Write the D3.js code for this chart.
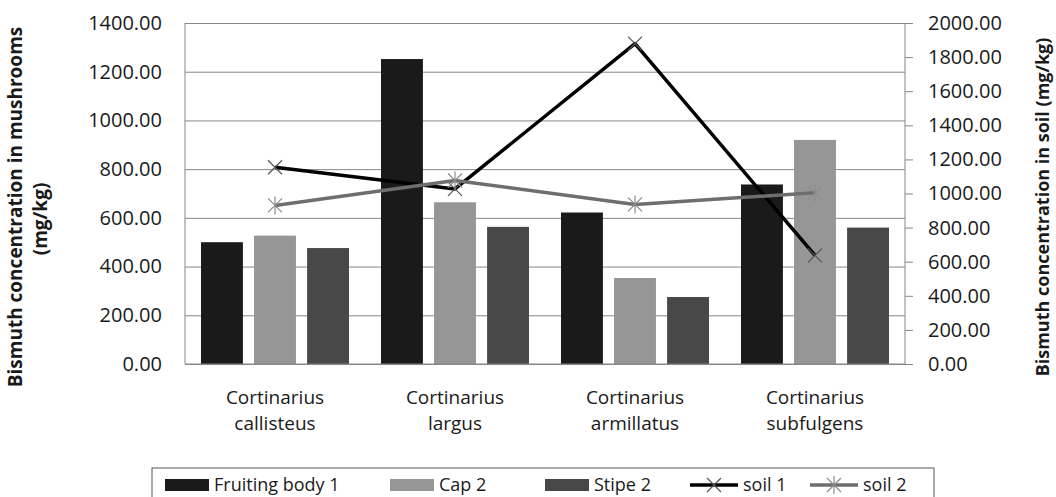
<!DOCTYPE html>
<html>
<head>
<meta charset="utf-8">
<script src="https://cdn.jsdelivr.net/npm/d3@7"></script>
<style>
  body { margin: 0; background: #fff; }
  svg { font-family: "Open Sans", sans-serif; }
</style>
</head>
<body>
<div id="chart-area"></div>
<script>
const categories = ["Cortinarius callisteus", "Cortinarius largus", "Cortinarius armillatus", "Cortinarius subfulgens"];
const barSeries = ["Fruiting body 1", "Cap 2", "Stipe 2"];
const fruitingBody1 = [500, 1252, 622, 737];
const cap2 = [527, 664, 353, 920];
const stipe2 = [476, 563, 275, 560];
const soil1 = [1154, 1027, 1879, 637];
const soil2 = [930, 1076, 936, 1004];
const leftTicks = [0, 200, 400, 600, 800, 1000, 1200, 1400];
const rightTicks = [0, 200, 400, 600, 800, 1000, 1200, 1400, 1600, 1800, 2000];

const barValues = [fruitingBody1, cap2, stipe2];
const barColors = ["#1a1a1a", "#969696", "#484848"];

var width = 1056, height = 497;
var plot = { left: 185, right: 905, top: 23, bottom: 364 };

var svg = d3.select("#chart-area")
    .append("svg")
    .attr("width", width)
    .attr("height", height);

const x0 = d3.scaleBand()
    .domain(categories)
    .range([plot.left, plot.right]);

const x1 = d3.scaleBand()
    .domain(barSeries)
    .range([16, x0.bandwidth() - 16])
    .paddingInner(0.21);

const yL = d3.scaleLinear().domain([0, 1400]).range([plot.bottom, plot.top]);
const yR = d3.scaleLinear().domain([0, 2000]).range([plot.bottom, plot.top]);

// gridlines
svg.append("g")
    .attr("transform", `translate(${plot.left},0)`)
    .call(d3.axisLeft(yL).tickValues(leftTicks).tickSize(-(plot.right - plot.left)).tickFormat(""))
    .call(g => g.select(".domain").remove())
    .call(g => g.selectAll("line").attr("stroke", "#868686"));

// frame
svg.append("line")
    .attr("x1", plot.left).attr("x2", plot.left)
    .attr("y1", plot.top).attr("y2", plot.bottom)
    .attr("stroke", "#868686");

// left axis labels
svg.append("g")
    .attr("transform", `translate(${plot.left},0)`)
    .call(d3.axisLeft(yL).tickValues(leftTicks).tickSize(0).tickPadding(23).tickFormat(d3.format(".2f")))
    .call(g => g.select(".domain").remove())
    .selectAll("text")
    .attr("font-family", "Open Sans")
    .attr("font-size", "20px")
    .attr("fill", "#1a1a1a");

// bars
categories.forEach((c, i) => {
    barSeries.forEach((s, j) => {
        svg.append("rect")
            .attr("x", x0(c) + x1(s))
            .attr("y", yL(barValues[j][i]))
            .attr("width", x1.bandwidth())
            .attr("height", plot.bottom - yL(barValues[j][i]))
            .attr("fill", barColors[j]);
    });
});

// bottom axis line
svg.append("line")
    .attr("x1", plot.left).attr("x2", plot.right)
    .attr("y1", plot.bottom).attr("y2", plot.bottom)
    .attr("stroke", "#868686");

// right axis
svg.append("g")
    .attr("transform", `translate(${plot.right},0)`)
    .call(d3.axisRight(yR).tickValues(rightTicks).tickSize(8).tickPadding(15).tickFormat(d3.format(".2f")))
    .call(g => g.select(".domain").attr("stroke", "#868686").attr("d", `M0,${plot.top}V${plot.bottom}`))
    .call(g => g.selectAll("line").attr("stroke", "#868686"))
    .selectAll("text")
    .attr("font-family", "Open Sans")
    .attr("font-size", "20px")
    .attr("fill", "#1a1a1a");

// category labels, two lines each
categories.forEach(c => {
    c.split(" ").forEach((w, k) => {
        svg.append("text")
            .attr("x", x0(c) + x0.bandwidth() / 2)
            .attr("y", 404 + k * 26)
            .attr("text-anchor", "middle")
            .attr("font-size", "19px")
            .attr("fill", "#1a1a1a")
            .text(w);
    });
});

// lines
const cx = c => x0(c) + x0.bandwidth() / 2;
const line = d3.line().x(d => cx(d.c)).y(d => yR(d.v));

function xMark(g, x, y, color) {
    g.append("path")
        .attr("d", `M${x - 7},${y - 7}L${x + 7},${y + 7}M${x - 7},${y + 7}L${x + 7},${y - 7}`)
        .attr("stroke", color).attr("stroke-width", 1.2).attr("fill", "none");
}
function starMark(g, x, y, color) {
    xMark(g, x, y, color);
    g.append("path")
        .attr("d", `M${x},${y - 9}L${x},${y + 9}`)
        .attr("stroke", color).attr("stroke-width", 1.2);
}

const s1 = categories.map((c, i) => ({ c: c, v: soil1[i] }));
const s2 = categories.map((c, i) => ({ c: c, v: soil2[i] }));

svg.append("path").datum(s1)
    .attr("d", line).attr("fill", "none")
    .attr("stroke", "#000").attr("stroke-width", 3.5).attr("stroke-linejoin", "round");
s1.forEach(d => xMark(svg, cx(d.c), yR(d.v), "#555"));

svg.append("path").datum(s2)
    .attr("d", line).attr("fill", "none")
    .attr("stroke", "#6e6e6e").attr("stroke-width", 3.5).attr("stroke-linejoin", "round");
s2.forEach(d => starMark(svg, cx(d.c), yR(d.v), "#8c8c8c"));

// axis titles
svg.append("text")
    .attr("transform", "translate(22,207) rotate(-90)")
    .attr("text-anchor", "middle")
    .attr("font-size", "19px")
    .attr("font-weight", "bold")
    .attr("fill", "#1a1a1a")
    .text("Bismuth concentration in mushrooms");
svg.append("text")
    .attr("transform", "translate(47,219) rotate(-90)")
    .attr("text-anchor", "middle")
    .attr("font-size", "19px")
    .attr("font-weight", "bold")
    .attr("fill", "#1a1a1a")
    .text("(mg/kg)");
svg.append("text")
    .attr("transform", "translate(1049,207) rotate(-90)")
    .attr("text-anchor", "middle")
    .attr("font-size", "18px")
    .attr("font-weight", "bold")
    .attr("fill", "#1a1a1a")
    .text("Bismuth concentration in soil (mg/kg)");

// legend
const legend = svg.append("g");
legend.append("rect")
    .attr("x", 152).attr("y", 468)
    .attr("width", 782).attr("height", 40)
    .attr("fill", "none").attr("stroke", "#555");

const itemX = [165, 390, 545, 690, 810];
const ly = 485;
barSeries.forEach((s, j) => {
    legend.append("rect")
        .attr("x", itemX[j]).attr("y", ly - 6)
        .attr("width", 44).attr("height", 12)
        .attr("fill", barColors[j]);
    legend.append("text")
        .attr("x", itemX[j] + 49).attr("y", ly + 6)
        .attr("font-size", "18px").attr("fill", "#1a1a1a")
        .text(s);
});
[["soil 1", "#000", xMark, "#555"], ["soil 2", "#6e6e6e", starMark, "#8c8c8c"]].forEach(([name, col, mark, mcol], k) => {
    const lx = itemX[3 + k];
    legend.append("line")
        .attr("x1", lx).attr("x2", lx + 48)
        .attr("y1", ly).attr("y2", ly)
        .attr("stroke", col).attr("stroke-width", 3.5);
    mark(legend, lx + 24, ly, mcol);
    legend.append("text")
        .attr("x", lx + 53).attr("y", ly + 6)
        .attr("font-size", "18px").attr("fill", "#1a1a1a")
        .text(name);
});
</script>
</body>
</html>
